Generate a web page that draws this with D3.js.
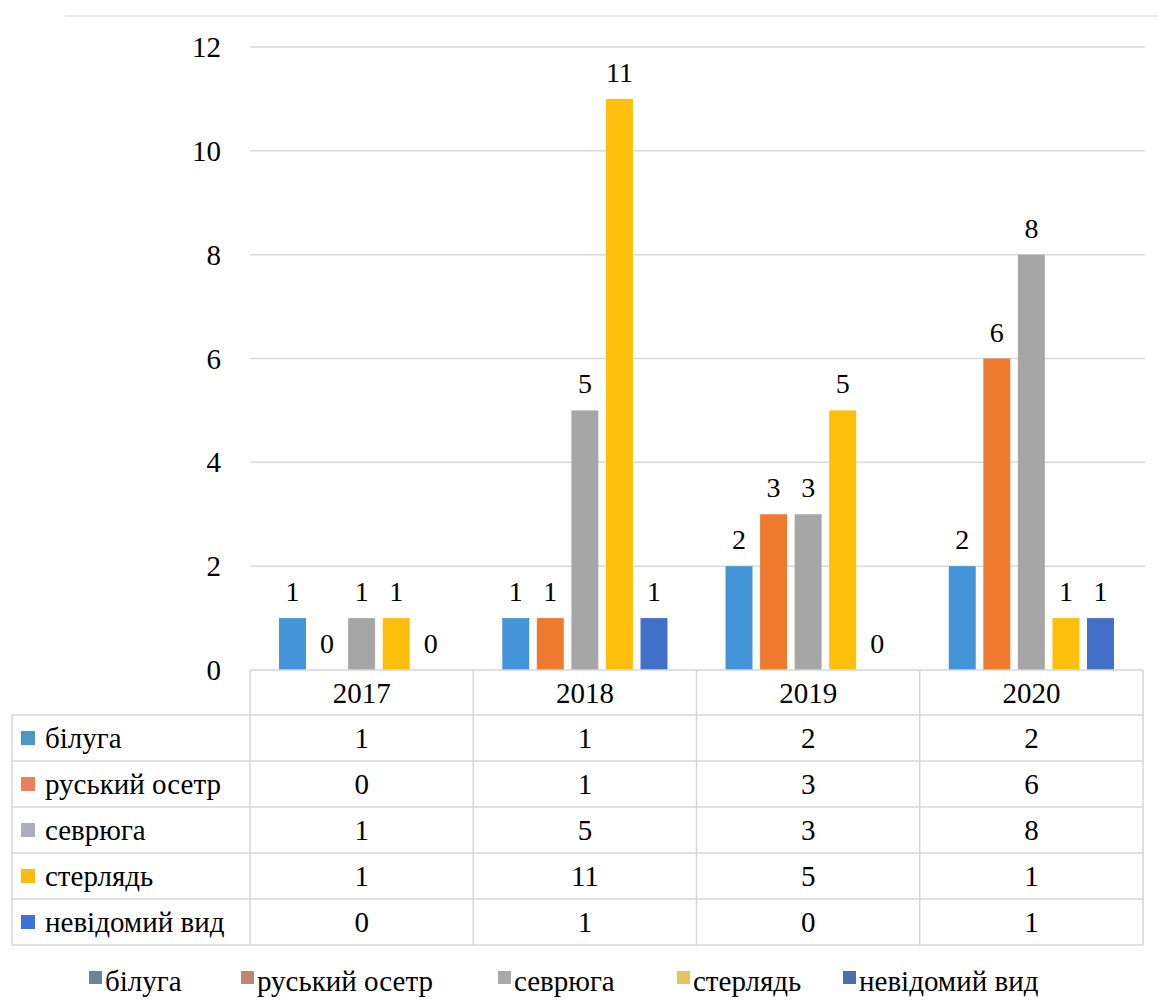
<!DOCTYPE html>
<html><head><meta charset="utf-8">
<script src="https://cdn.jsdelivr.net/npm/d3@7/dist/d3.min.js"></script>
</head><body style="margin:0"><svg id="c" width="1158" height="1000" style="display:block"></svg>
<script>
const years = ["2017","2018","2019","2020"];
const seriesNames = ["білуга","руський осетр","севрюга","стерлядь","невідомий вид"];
const bilugaVals = [1,1,2,2];
const osetrVals = [0,1,3,6];
const sevrugaVals = [1,5,3,8];
const sterliadVals = [1,11,5,1];
const unknownVals = [0,1,0,1];
const yTicks = [0,2,4,6,8,10,12];
const barColors = ["#4495d8","#ee7a2f","#a6a6a6","#fdbe0c","#4270c8"];
const tableMarkColors = ["#4d98c2","#e9805f","#aeadbd","#fdbb12","#3f72d8"];
const legendMarkColors = ["#6b8298","#c08672","#a9a9a9","#e3c45a","#4d6cb0"];
const legendX = [89, 241, 498, 677, 843];

const values = [bilugaVals, osetrVals, sevrugaVals, sterliadVals, unknownVals];
const svg = d3.select("#c");
const plotL = 250, plotR = 1143, y0px = 670, y12px = 47;
const x0 = d3.scaleBand().domain(years).range([plotL, plotR]).padding(0);
const x1 = d3.scaleBand().domain(d3.range(5)).range([0, x0.bandwidth()]).paddingInner(0.22).paddingOuter(0.84);
const y = d3.scaleLinear().domain([0,12]).range([y0px, y12px]);
const T = (sel, size) => sel.style("font-family", "'Liberation Serif'").style("font-size", size + "px");

svg.append("line").attr("x1",65).attr("x2",1158).attr("y1",16).attr("y2",16).attr("stroke","#e3e3e3").attr("stroke-width",1.5);

svg.append("g").selectAll("line").data(yTicks.filter(d=>d>0)).join("line")
  .attr("x1",plotL).attr("x2",plotR+2).attr("y1",d=>y(d)).attr("y2",d=>y(d))
  .attr("stroke","#d9d9d9").attr("stroke-width",1.5);

T(svg.append("g").selectAll("text").data(yTicks).join("text")
  .attr("x",221).attr("y",d=>y(d)+10).attr("text-anchor","end"), 29).text(d=>d);

const gYears = svg.append("g").selectAll("g").data(years).join("g")
  .attr("transform",d=>`translate(${x0(d)},0)`);
gYears.each(function(yr, yi){
  const g = d3.select(this);
  const data = values.map((arr,si)=>({si, v:arr[yi]}));
  g.selectAll("rect").data(data.filter(d=>d.v>0)).join("rect")
    .attr("x",d=>x1(d.si)).attr("width",x1.bandwidth())
    .attr("y",d=>y(d.v)).attr("height",d=>y(0)-y(d.v))
    .attr("fill",d=>barColors[d.si]);
  T(g.selectAll("text").data(data).join("text")
    .attr("x",d=>x1(d.si)+x1.bandwidth()/2)
    .attr("y",d=>y(d.v)-17)
    .attr("text-anchor","middle"), 28).text(d=>d.v);
});

const rowTop = 715, rowH = 46, headTop = 670;
const gridC = "#d6d6d6";
const tbl = svg.append("g");
tbl.append("line").attr("x1",plotL).attr("x2",plotR).attr("y1",headTop).attr("y2",headTop).attr("stroke",gridC).attr("stroke-width",1.5);
tbl.selectAll("line.h").data(d3.range(6)).join("line").attr("class","h")
  .attr("x1",12).attr("x2",plotR).attr("y1",i=>rowTop+i*rowH).attr("y2",i=>rowTop+i*rowH)
  .attr("stroke",gridC).attr("stroke-width",1.5);
const vx = years.map(d=>x0(d)).concat([plotR]);
tbl.selectAll("line.v").data(vx).join("line").attr("class","v")
  .attr("x1",d=>d).attr("x2",d=>d).attr("y1",headTop).attr("y2",rowTop+5*rowH)
  .attr("stroke",gridC).attr("stroke-width",1.5);
tbl.append("line").attr("x1",12).attr("x2",12).attr("y1",rowTop).attr("y2",rowTop+5*rowH).attr("stroke",gridC).attr("stroke-width",1.5);
T(tbl.selectAll("text.hd").data(years).join("text").attr("class","hd")
  .attr("x",d=>x0(d)+x0.bandwidth()/2).attr("y",headTop+33)
  .attr("text-anchor","middle"), 29).text(d=>d);
seriesNames.forEach((name,si)=>{
  const cy = rowTop + si*rowH + rowH/2;
  tbl.append("rect").attr("x",21).attr("y",cy-7).attr("width",14).attr("height",14).attr("fill",tableMarkColors[si]);
  T(tbl.append("text").attr("x",45).attr("y",cy+10), 29).text(name);
  T(tbl.append("g").selectAll("text").data(values[si]).join("text")
    .attr("x",(v,i)=>x0(years[i])+x0.bandwidth()/2).attr("y",cy+10)
    .attr("text-anchor","middle"), 29).text(v=>v);
});

const lg = svg.append("g");
const items = lg.selectAll("g").data(seriesNames).join("g")
  .attr("transform",(d,i)=>`translate(${legendX[i]},982)`);
items.append("rect").attr("width",13).attr("height",13).attr("y",-11).attr("fill",(d,i)=>legendMarkColors[i]);
T(items.append("text").attr("x",16).attr("y",9), 29).text(d=>d);
</script></body></html>
